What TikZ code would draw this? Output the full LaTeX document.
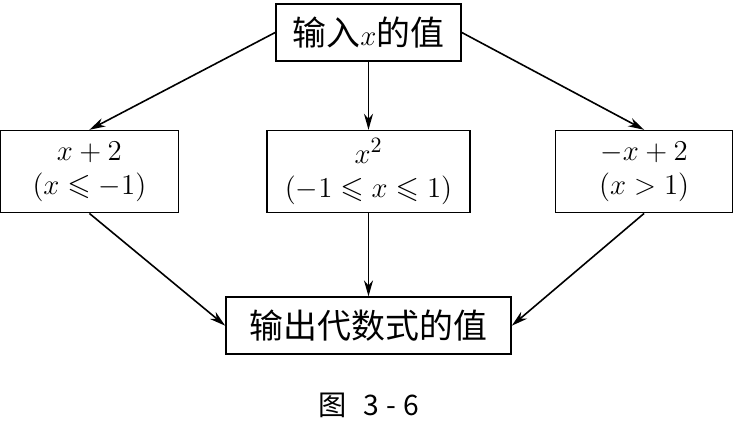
\documentclass[tikz,border=0pt]{standalone}
\usepackage{amssymb}
\usepackage{fontspec}
\newfontfamily\cjk[Scale=1.13]{Noto Sans CJK SC}
\usepackage{tikz}
\usetikzlibrary{positioning,arrows.meta}

\begin{document}
\begin{tikzpicture}[font=\fontsize{15}{17}\selectfont,
    box/.style={draw, rectangle, line width=0.8pt, align=center, inner sep=2pt},
    flow/.style={-{Stealth[length=8pt,width=4.5pt,inset=2.5pt]}, line width=0.8pt}]
    \useasboundingbox (-184.25pt,16.25pt) rectangle (185.25pt,-195.25pt);

    \node[box, minimum width=92.5pt, minimum height=28.5pt] (input) at (0,0) {{\cjk 输入}$x${\cjk 的值}};
    \node[box, minimum width=101.5pt, minimum height=41pt, below=34pt of input] (mid) {$x^2$\\$(-1\leqslant x\leqslant 1)$};
    \node[box, minimum width=89pt, minimum height=41pt, left=43.5pt of mid] (lft) {$x+2$\\$(x\leqslant -1)$};
    \node[box, minimum width=88.5pt, minimum height=41pt, right=42pt of mid] (rgt) {$-x+2$\\$(x>1)$};
    \node[box, minimum width=142.5pt, minimum height=28.5pt, below=41.5pt of mid] (output) {\cjk 输出代数式的值};

    \draw[flow] (input.west) -- (lft.north);
    \draw[flow] (input) -- (mid);
    \draw[flow] (input.east) -- (rgt.north);
    \draw[flow] (lft.south) -- (output.west);
    \draw[flow] (mid) -- (output);
    \draw[flow] (rgt.south) -- (output.east);

    \node[inner sep=0pt, below=19pt of output] (caption) {\fontsize{12.5}{14}\selectfont\cjk 图\hspace{0.6em}3\hspace{0.25em}-\hspace{0.25em}6};
\end{tikzpicture}
\end{document}
